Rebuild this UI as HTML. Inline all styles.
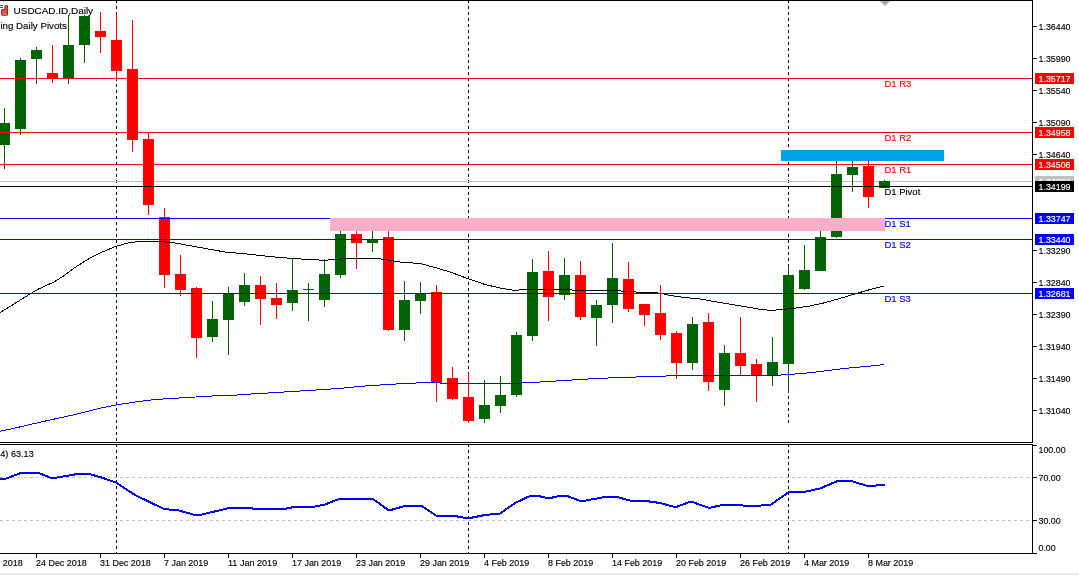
<!DOCTYPE html>
<html lang="en"><head><meta charset="utf-8"><title>USDCAD.ID,Daily</title>
<style>html,body{margin:0;padding:0;background:#fff;}body{width:1079px;height:575px;overflow:hidden;}svg{display:block;will-change:transform;}text{white-space:pre;}</style>
</head><body>
<svg width="1079" height="575" viewBox="0 0 1079 575" font-family="Liberation Sans, Arial, sans-serif">
<rect x="0" y="573" width="1079" height="1" fill="#f4f4f4"/><rect x="0" y="574" width="1079" height="1" fill="#e2e2e2"/>
<g shape-rendering="crispEdges">
<path d="M116.5 0V3M116.5 6V9M116.5 12V15M116.5 18V21M116.5 24V27M116.5 30V33M116.5 36V39M116.5 42V45M116.5 48V51M116.5 54V57M116.5 60V63M116.5 66V69M116.5 72V75M116.5 78V81M116.5 84V87M116.5 90V93M116.5 96V99M116.5 102V105M116.5 108V111M116.5 114V117M116.5 120V123M116.5 126V129M116.5 132V135M116.5 138V141M116.5 144V147M116.5 150V153M116.5 156V159M116.5 162V165M116.5 168V171M116.5 174V177M116.5 180V183M116.5 186V189M116.5 192V195M116.5 198V201M116.5 204V207M116.5 210V213M116.5 216V219M116.5 222V225M116.5 228V231M116.5 234V237M116.5 240V243M116.5 246V249M116.5 252V255M116.5 258V261M116.5 264V267M116.5 270V273M116.5 276V279M116.5 282V285M116.5 288V291M116.5 294V297M116.5 300V303M116.5 306V309M116.5 312V315M116.5 318V321M116.5 324V327M116.5 330V333M116.5 336V339M116.5 342V345M116.5 348V351M116.5 354V357M116.5 360V363M116.5 366V369M116.5 372V375M116.5 378V381M116.5 384V387M116.5 390V393M116.5 396V399M116.5 402V405M116.5 408V411M116.5 414V417M116.5 420V423M116.5 426V429M116.5 432V435M116.5 438V441M116.5 444V447M116.5 450V453M116.5 456V459M116.5 462V465M116.5 468V471M116.5 474V477M116.5 480V483M116.5 486V489M116.5 492V495M116.5 498V501M116.5 504V507M116.5 510V513M116.5 516V519M116.5 522V525M116.5 528V531M116.5 534V537M116.5 540V543M116.5 546V549M116.5 552V553" stroke="#000" stroke-width="1" fill="none"/>
<path d="M468.5 0V3M468.5 6V9M468.5 12V15M468.5 18V21M468.5 24V27M468.5 30V33M468.5 36V39M468.5 42V45M468.5 48V51M468.5 54V57M468.5 60V63M468.5 66V69M468.5 72V75M468.5 78V81M468.5 84V87M468.5 90V93M468.5 96V99M468.5 102V105M468.5 108V111M468.5 114V117M468.5 120V123M468.5 126V129M468.5 132V135M468.5 138V141M468.5 144V147M468.5 150V153M468.5 156V159M468.5 162V165M468.5 168V171M468.5 174V177M468.5 180V183M468.5 186V189M468.5 192V195M468.5 198V201M468.5 204V207M468.5 210V213M468.5 216V219M468.5 222V225M468.5 228V231M468.5 234V237M468.5 240V243M468.5 246V249M468.5 252V255M468.5 258V261M468.5 264V267M468.5 270V273M468.5 276V279M468.5 282V285M468.5 288V291M468.5 294V297M468.5 300V303M468.5 306V309M468.5 312V315M468.5 318V321M468.5 324V327M468.5 330V333M468.5 336V339M468.5 342V345M468.5 348V351M468.5 354V357M468.5 360V363M468.5 366V369M468.5 372V375M468.5 378V381M468.5 384V387M468.5 390V393M468.5 396V399M468.5 402V405M468.5 408V411M468.5 414V417M468.5 420V423" stroke="#000" stroke-width="1" fill="none"/>
<path d="M468.5 445V447M468.5 450V453M468.5 456V459M468.5 462V465M468.5 468V471M468.5 474V477M468.5 480V483M468.5 486V489M468.5 492V495M468.5 498V501M468.5 504V507M468.5 510V513M468.5 516V519M468.5 522V525M468.5 528V531M468.5 534V537M468.5 540V543M468.5 546V549M468.5 552V553" stroke="#000" stroke-width="1" fill="none"/>
<path d="M788.5 0V3M788.5 6V9M788.5 12V15M788.5 18V21M788.5 24V27M788.5 30V33M788.5 36V39M788.5 42V45M788.5 48V51M788.5 54V57M788.5 60V63M788.5 66V69M788.5 72V75M788.5 78V81M788.5 84V87M788.5 90V93M788.5 96V99M788.5 102V105M788.5 108V111M788.5 114V117M788.5 120V123M788.5 126V129M788.5 132V135M788.5 138V141M788.5 144V147M788.5 150V153M788.5 156V159M788.5 162V165M788.5 168V171M788.5 174V177M788.5 180V183M788.5 186V189M788.5 192V195M788.5 198V201M788.5 204V207M788.5 210V213M788.5 216V219M788.5 222V225M788.5 228V231M788.5 234V237M788.5 240V243M788.5 246V249M788.5 252V255M788.5 258V261M788.5 264V267M788.5 270V273M788.5 276V279M788.5 282V285M788.5 288V291M788.5 294V297M788.5 300V303M788.5 306V309M788.5 312V315M788.5 318V321M788.5 324V327M788.5 330V333M788.5 336V339M788.5 342V345M788.5 348V351M788.5 354V357M788.5 360V363M788.5 366V369M788.5 372V375M788.5 378V381M788.5 384V387M788.5 390V393M788.5 396V399M788.5 402V405M788.5 408V411M788.5 414V417M788.5 420V423" stroke="#000" stroke-width="1" fill="none"/>
<path d="M788.5 445V447M788.5 450V453M788.5 456V459M788.5 462V465M788.5 468V471M788.5 474V477M788.5 480V483M788.5 486V489M788.5 492V495M788.5 498V501M788.5 504V507M788.5 510V513M788.5 516V519M788.5 522V525M788.5 528V531M788.5 534V537M788.5 540V543M788.5 546V549M788.5 552V553" stroke="#000" stroke-width="1" fill="none"/>
<path d="M0 477.5H1032" stroke="#c0c0c0" stroke-width="1" stroke-dasharray="3,3" fill="none"/>
<path d="M0 520.5H1032" stroke="#c0c0c0" stroke-width="1" stroke-dasharray="3,3" fill="none"/>
<rect x="0" y="181" width="1032" height="1" fill="#c0c0c0"/>
<rect x="4" y="108" width="1" height="61" fill="#006400"/>
<rect x="-1" y="123" width="11" height="22" fill="#006400"/>
<rect x="20" y="58" width="1" height="77" fill="#006400"/>
<rect x="15" y="60" width="11" height="69" fill="#006400"/>
<rect x="36" y="47" width="1" height="37" fill="#006400"/>
<rect x="31" y="50" width="11" height="9" fill="#006400"/>
<rect x="52" y="45" width="1" height="38" fill="#ff0000"/>
<rect x="47" y="73" width="11" height="5" fill="#ff0000"/>
<rect x="68" y="15" width="1" height="69" fill="#006400"/>
<rect x="63" y="45" width="11" height="33" fill="#006400"/>
<rect x="84" y="15" width="1" height="48" fill="#006400"/>
<rect x="79" y="16" width="11" height="29" fill="#006400"/>
<rect x="100" y="12" width="1" height="41" fill="#ff0000"/>
<rect x="95" y="31" width="11" height="6" fill="#ff0000"/>
<rect x="116" y="14" width="1" height="66" fill="#ff0000"/>
<rect x="111" y="40" width="11" height="31" fill="#ff0000"/>
<rect x="132" y="20" width="1" height="132" fill="#ff0000"/>
<rect x="127" y="69" width="11" height="71" fill="#ff0000"/>
<rect x="148" y="133" width="1" height="82" fill="#ff0000"/>
<rect x="143" y="139" width="11" height="66" fill="#ff0000"/>
<rect x="164" y="208" width="1" height="80" fill="#ff0000"/>
<rect x="159" y="217" width="11" height="58" fill="#ff0000"/>
<rect x="180" y="255" width="1" height="41" fill="#ff0000"/>
<rect x="175" y="274" width="11" height="16" fill="#ff0000"/>
<rect x="196" y="287" width="1" height="71" fill="#ff0000"/>
<rect x="191" y="288" width="11" height="50" fill="#ff0000"/>
<rect x="212" y="301" width="1" height="41" fill="#006400"/>
<rect x="207" y="319" width="11" height="18" fill="#006400"/>
<rect x="228" y="287" width="1" height="68" fill="#006400"/>
<rect x="223" y="293" width="11" height="27" fill="#006400"/>
<rect x="244" y="273" width="1" height="33" fill="#006400"/>
<rect x="239" y="285" width="11" height="17" fill="#006400"/>
<rect x="260" y="276" width="1" height="49" fill="#ff0000"/>
<rect x="255" y="285" width="11" height="14" fill="#ff0000"/>
<rect x="276" y="283" width="1" height="36" fill="#ff0000"/>
<rect x="271" y="298" width="11" height="7" fill="#ff0000"/>
<rect x="292" y="259" width="1" height="52" fill="#006400"/>
<rect x="287" y="290" width="11" height="13" fill="#006400"/>
<rect x="308" y="283" width="1" height="38" fill="#006400"/>
<rect x="303" y="289" width="11" height="1" fill="#006400"/>
<rect x="324" y="259" width="1" height="48" fill="#006400"/>
<rect x="319" y="274" width="11" height="26" fill="#006400"/>
<rect x="340" y="231" width="1" height="47" fill="#006400"/>
<rect x="335" y="234" width="11" height="41" fill="#006400"/>
<rect x="356" y="231" width="1" height="38" fill="#ff0000"/>
<rect x="351" y="234" width="11" height="9" fill="#ff0000"/>
<rect x="372" y="231" width="1" height="21" fill="#006400"/>
<rect x="367" y="240" width="11" height="3" fill="#006400"/>
<rect x="388" y="231" width="1" height="100" fill="#ff0000"/>
<rect x="383" y="237" width="11" height="93" fill="#ff0000"/>
<rect x="404" y="281" width="1" height="60" fill="#006400"/>
<rect x="399" y="300" width="11" height="30" fill="#006400"/>
<rect x="420" y="282" width="1" height="32" fill="#006400"/>
<rect x="415" y="293" width="11" height="8" fill="#006400"/>
<rect x="436" y="285" width="1" height="117" fill="#ff0000"/>
<rect x="431" y="292" width="11" height="91" fill="#ff0000"/>
<rect x="452" y="367" width="1" height="33" fill="#ff0000"/>
<rect x="447" y="378" width="11" height="21" fill="#ff0000"/>
<rect x="468" y="373" width="1" height="50" fill="#ff0000"/>
<rect x="463" y="397" width="11" height="24" fill="#ff0000"/>
<rect x="484" y="380" width="1" height="43" fill="#006400"/>
<rect x="479" y="405" width="11" height="14" fill="#006400"/>
<rect x="500" y="376" width="1" height="37" fill="#006400"/>
<rect x="495" y="395" width="11" height="11" fill="#006400"/>
<rect x="516" y="332" width="1" height="65" fill="#006400"/>
<rect x="511" y="335" width="11" height="60" fill="#006400"/>
<rect x="532" y="259" width="1" height="82" fill="#006400"/>
<rect x="527" y="272" width="11" height="64" fill="#006400"/>
<rect x="548" y="251" width="1" height="70" fill="#ff0000"/>
<rect x="543" y="271" width="11" height="26" fill="#ff0000"/>
<rect x="564" y="258" width="1" height="42" fill="#006400"/>
<rect x="559" y="275" width="11" height="20" fill="#006400"/>
<rect x="580" y="261" width="1" height="59" fill="#ff0000"/>
<rect x="575" y="275" width="11" height="42" fill="#ff0000"/>
<rect x="596" y="300" width="1" height="46" fill="#006400"/>
<rect x="591" y="305" width="11" height="13" fill="#006400"/>
<rect x="612" y="243" width="1" height="80" fill="#006400"/>
<rect x="607" y="278" width="11" height="27" fill="#006400"/>
<rect x="628" y="262" width="1" height="50" fill="#ff0000"/>
<rect x="623" y="279" width="11" height="30" fill="#ff0000"/>
<rect x="644" y="304" width="1" height="22" fill="#ff0000"/>
<rect x="639" y="304" width="11" height="11" fill="#ff0000"/>
<rect x="660" y="285" width="1" height="55" fill="#ff0000"/>
<rect x="655" y="313" width="11" height="22" fill="#ff0000"/>
<rect x="676" y="331" width="1" height="48" fill="#ff0000"/>
<rect x="671" y="333" width="11" height="30" fill="#ff0000"/>
<rect x="692" y="317" width="1" height="53" fill="#006400"/>
<rect x="687" y="324" width="11" height="39" fill="#006400"/>
<rect x="708" y="313" width="1" height="78" fill="#ff0000"/>
<rect x="703" y="322" width="11" height="60" fill="#ff0000"/>
<rect x="724" y="345" width="1" height="61" fill="#006400"/>
<rect x="719" y="353" width="11" height="37" fill="#006400"/>
<rect x="740" y="317" width="1" height="58" fill="#ff0000"/>
<rect x="735" y="353" width="11" height="13" fill="#ff0000"/>
<rect x="756" y="359" width="1" height="43" fill="#ff0000"/>
<rect x="751" y="364" width="11" height="11" fill="#ff0000"/>
<rect x="772" y="337" width="1" height="49" fill="#006400"/>
<rect x="767" y="362" width="11" height="13" fill="#006400"/>
<rect x="788" y="266" width="1" height="127" fill="#006400"/>
<rect x="783" y="275" width="11" height="89" fill="#006400"/>
<rect x="804" y="245" width="1" height="45" fill="#006400"/>
<rect x="799" y="270" width="11" height="19" fill="#006400"/>
<rect x="820" y="231" width="1" height="40" fill="#006400"/>
<rect x="815" y="237" width="11" height="34" fill="#006400"/>
<rect x="836" y="161" width="1" height="77" fill="#006400"/>
<rect x="831" y="174" width="11" height="63" fill="#006400"/>
<rect x="852" y="161" width="1" height="31" fill="#006400"/>
<rect x="847" y="167" width="11" height="8" fill="#006400"/>
<rect x="868" y="161" width="1" height="47" fill="#ff0000"/>
<rect x="863" y="166" width="11" height="31" fill="#ff0000"/>
<rect x="884" y="180" width="1" height="8" fill="#006400"/>
<rect x="879" y="181" width="11" height="7" fill="#006400"/>
</g>
<polyline points="0,312.5 12.5,305 25,297 37.5,289.5 54,282 65,275 75,267.5 87.5,259.5 100,253 116,246.3 130,242.5 145,241 157.5,241 175,243 200,247.5 225,252 250,254.3 260,255.5 275,257 292.5,258.5 310,259.5 325,260.3 335,259.3 355,258.3 375,258.3 385,259.5 400,262 420,263.5 435,267.5 450,272 468.5,278.8 485,284.5 500,288 515,290.5 525,289.3 570,289.3 574,290.5 620,290.5 622.5,291.5 635,291.5 637.5,292.5 652.5,292.5 662.5,293.5 670,295.5 685,297.5 700,299 720,302.5 735,305 750,307.5 760,309.3 772.5,310.5 780,309.5 792,308.5 808,306.4 824,302.9 840,298.4 856,293.6 872,289 884,286" fill="none" stroke="#000" stroke-width="1" stroke-linejoin="round" shape-rendering="crispEdges"/>
<polyline points="0,431.2 12.5,428.7 25,425.7 50,420 75,414.5 100,408.3 116,405 135,402 155,399.5 187.5,397.5 220,395.5 232,395.5 243,394.5 260,393.5 276,392.5 292,391.5 308,390.5 324,389.5 339,388.5 349,387.5 359,386.5 372,385.5 388,384.5 404,383.5 429,382.5 450,383.5 510,383.5 532,382.5 548,381.5 564,380.5 580,379.5 597,378.5 620,377.5 652,376.5 680,375.5 775,375.5 788,374.5 802,373.5 812,372.5 820,371.5 828,370.5 836,369.5 844,368.5 854,367.5 866,366.5 876,365.5 884,364.5" fill="none" stroke="#0000ff" stroke-width="1" stroke-linejoin="round" shape-rendering="crispEdges"/>
<g shape-rendering="crispEdges">
<rect x="0" y="78" width="1032" height="1" fill="#ff0000"/>
<rect x="0" y="132" width="1032" height="1" fill="#ff0000"/>
<rect x="0" y="164" width="1032" height="1" fill="#ff0000"/>
<rect x="0" y="186" width="1032" height="1" fill="#000"/>
<rect x="0" y="218" width="1032" height="1" fill="#0000ff"/>
<rect x="0" y="239" width="1032" height="1" fill="#0000ff"/>
<rect x="0" y="293" width="1032" height="1" fill="#0000ff"/>
<rect x="0" y="0" width="1033" height="1" fill="#000"/>
<rect x="0" y="442" width="1033" height="1" fill="#000"/>
<rect x="0" y="444" width="1033" height="1" fill="#000"/>
<rect x="0" y="553" width="1033" height="1" fill="#000"/>
<rect x="1032" y="0" width="1" height="443" fill="#000"/>
<rect x="1032" y="444" width="1" height="110" fill="#000"/>
<rect x="1033" y="26" width="4" height="1" fill="#000"/>
<rect x="1033" y="58" width="4" height="1" fill="#000"/>
<rect x="1033" y="90" width="4" height="1" fill="#000"/>
<rect x="1033" y="122" width="4" height="1" fill="#000"/>
<rect x="1033" y="154" width="4" height="1" fill="#000"/>
<rect x="1033" y="250" width="4" height="1" fill="#000"/>
<rect x="1033" y="282" width="4" height="1" fill="#000"/>
<rect x="1033" y="314" width="4" height="1" fill="#000"/>
<rect x="1033" y="346" width="4" height="1" fill="#000"/>
<rect x="1033" y="378" width="4" height="1" fill="#000"/>
<rect x="1033" y="410" width="4" height="1" fill="#000"/>
<rect x="1033" y="445" width="4" height="1" fill="#000"/>
<rect x="1033" y="477" width="4" height="1" fill="#000"/>
<rect x="1033" y="520" width="4" height="1" fill="#000"/>
<rect x="1033" y="553" width="4" height="1" fill="#000"/>
<rect x="36" y="554" width="1" height="4" fill="#000"/>
<rect x="100" y="554" width="1" height="4" fill="#000"/>
<rect x="164" y="554" width="1" height="4" fill="#000"/>
<rect x="228" y="554" width="1" height="4" fill="#000"/>
<rect x="292" y="554" width="1" height="4" fill="#000"/>
<rect x="356" y="554" width="1" height="4" fill="#000"/>
<rect x="420" y="554" width="1" height="4" fill="#000"/>
<rect x="484" y="554" width="1" height="4" fill="#000"/>
<rect x="548" y="554" width="1" height="4" fill="#000"/>
<rect x="612" y="554" width="1" height="4" fill="#000"/>
<rect x="676" y="554" width="1" height="4" fill="#000"/>
<rect x="740" y="554" width="1" height="4" fill="#000"/>
<rect x="804" y="554" width="1" height="4" fill="#000"/>
<rect x="868" y="554" width="1" height="4" fill="#000"/>
</g>
<text x="1038.5" y="30" font-size="9.8" fill="#000" stroke="#000" stroke-width="0.15" textLength="32.0" lengthAdjust="spacingAndGlyphs">1.36440</text>
<text x="1038.5" y="62" font-size="9.8" fill="#000" stroke="#000" stroke-width="0.15" textLength="32.0" lengthAdjust="spacingAndGlyphs">1.35990</text>
<text x="1038.5" y="94" font-size="9.8" fill="#000" stroke="#000" stroke-width="0.15" textLength="32.0" lengthAdjust="spacingAndGlyphs">1.35540</text>
<text x="1038.5" y="126" font-size="9.8" fill="#000" stroke="#000" stroke-width="0.15" textLength="32.0" lengthAdjust="spacingAndGlyphs">1.35090</text>
<text x="1038.5" y="158" font-size="9.8" fill="#000" stroke="#000" stroke-width="0.15" textLength="32.0" lengthAdjust="spacingAndGlyphs">1.34640</text>
<text x="1038.5" y="254" font-size="9.8" fill="#000" stroke="#000" stroke-width="0.15" textLength="32.0" lengthAdjust="spacingAndGlyphs">1.33290</text>
<text x="1038.5" y="286" font-size="9.8" fill="#000" stroke="#000" stroke-width="0.15" textLength="32.0" lengthAdjust="spacingAndGlyphs">1.32840</text>
<text x="1038.5" y="318" font-size="9.8" fill="#000" stroke="#000" stroke-width="0.15" textLength="32.0" lengthAdjust="spacingAndGlyphs">1.32390</text>
<text x="1038.5" y="350" font-size="9.8" fill="#000" stroke="#000" stroke-width="0.15" textLength="32.0" lengthAdjust="spacingAndGlyphs">1.31940</text>
<text x="1038.5" y="382" font-size="9.8" fill="#000" stroke="#000" stroke-width="0.15" textLength="32.0" lengthAdjust="spacingAndGlyphs">1.31490</text>
<text x="1038.5" y="414" font-size="9.8" fill="#000" stroke="#000" stroke-width="0.15" textLength="32.0" lengthAdjust="spacingAndGlyphs">1.31040</text>
<rect x="1035" y="73" width="39" height="11" fill="#ff0000" shape-rendering="crispEdges"/>
<text x="1038.5" y="82" font-size="9.8" fill="#fff" stroke="#fff" stroke-width="0.15" textLength="32.0" lengthAdjust="spacingAndGlyphs">1.35717</text>
<rect x="1035" y="127" width="39" height="11" fill="#ff0000" shape-rendering="crispEdges"/>
<text x="1038.5" y="136" font-size="9.8" fill="#fff" stroke="#fff" stroke-width="0.15" textLength="32.0" lengthAdjust="spacingAndGlyphs">1.34958</text>
<rect x="1035" y="159" width="39" height="11" fill="#ff0000" shape-rendering="crispEdges"/>
<text x="1038.5" y="168" font-size="9.8" fill="#fff" stroke="#fff" stroke-width="0.15" textLength="32.0" lengthAdjust="spacingAndGlyphs">1.34506</text>
<rect x="1035" y="176" width="39" height="11" fill="#c0c0c0" shape-rendering="crispEdges"/>
<text x="1038.5" y="185" font-size="9.8" fill="#fff" stroke="#fff" stroke-width="0.15" textLength="32.0" lengthAdjust="spacingAndGlyphs">1.34262</text>
<rect x="1035" y="181" width="39" height="11" fill="#000" shape-rendering="crispEdges"/>
<text x="1038.5" y="190" font-size="9.8" fill="#fff" stroke="#fff" stroke-width="0.15" textLength="32.0" lengthAdjust="spacingAndGlyphs">1.34199</text>
<rect x="1035" y="213" width="39" height="11" fill="#0000ff" shape-rendering="crispEdges"/>
<text x="1038.5" y="222" font-size="9.8" fill="#fff" stroke="#fff" stroke-width="0.15" textLength="32.0" lengthAdjust="spacingAndGlyphs">1.33747</text>
<rect x="1035" y="234" width="39" height="11" fill="#0000ff" shape-rendering="crispEdges"/>
<text x="1038.5" y="243" font-size="9.8" fill="#fff" stroke="#fff" stroke-width="0.15" textLength="32.0" lengthAdjust="spacingAndGlyphs">1.33440</text>
<rect x="1035" y="288" width="39" height="11" fill="#0000ff" shape-rendering="crispEdges"/>
<text x="1038.5" y="297" font-size="9.8" fill="#fff" stroke="#fff" stroke-width="0.15" textLength="32.0" lengthAdjust="spacingAndGlyphs">1.32681</text>
<text x="1038.5" y="453" font-size="9.8" fill="#000" stroke="#000" stroke-width="0.15" textLength="27.1" lengthAdjust="spacingAndGlyphs">100.00</text>
<text x="1038.5" y="481" font-size="9.8" fill="#000" stroke="#000" stroke-width="0.15" textLength="22.2" lengthAdjust="spacingAndGlyphs">70.00</text>
<text x="1038.5" y="524" font-size="9.8" fill="#000" stroke="#000" stroke-width="0.15" textLength="22.2" lengthAdjust="spacingAndGlyphs">30.00</text>
<text x="1038.5" y="551" font-size="9.8" fill="#000" stroke="#000" stroke-width="0.15" textLength="17.2" lengthAdjust="spacingAndGlyphs">0.00</text>
<text x="-28" y="566" font-size="9.8" fill="#000" stroke="#000" stroke-width="0.15" textLength="50.7" lengthAdjust="spacingAndGlyphs">18 Dec 2018</text>
<text x="36" y="566" font-size="9.8" fill="#000" stroke="#000" stroke-width="0.15" textLength="50.7" lengthAdjust="spacingAndGlyphs">24 Dec 2018</text>
<text x="100" y="566" font-size="9.8" fill="#000" stroke="#000" stroke-width="0.15" textLength="50.7" lengthAdjust="spacingAndGlyphs">31 Dec 2018</text>
<text x="164" y="566" font-size="9.8" fill="#000" stroke="#000" stroke-width="0.15" textLength="44.2" lengthAdjust="spacingAndGlyphs">7 Jan 2019</text>
<text x="228" y="566" font-size="9.8" fill="#000" stroke="#000" stroke-width="0.15" textLength="49.2" lengthAdjust="spacingAndGlyphs">11 Jan 2019</text>
<text x="292" y="566" font-size="9.8" fill="#000" stroke="#000" stroke-width="0.15" textLength="49.2" lengthAdjust="spacingAndGlyphs">17 Jan 2019</text>
<text x="356" y="566" font-size="9.8" fill="#000" stroke="#000" stroke-width="0.15" textLength="49.2" lengthAdjust="spacingAndGlyphs">23 Jan 2019</text>
<text x="420" y="566" font-size="9.8" fill="#000" stroke="#000" stroke-width="0.15" textLength="49.2" lengthAdjust="spacingAndGlyphs">29 Jan 2019</text>
<text x="484" y="566" font-size="9.8" fill="#000" stroke="#000" stroke-width="0.15" textLength="45.2" lengthAdjust="spacingAndGlyphs">4 Feb 2019</text>
<text x="548" y="566" font-size="9.8" fill="#000" stroke="#000" stroke-width="0.15" textLength="45.2" lengthAdjust="spacingAndGlyphs">8 Feb 2019</text>
<text x="612" y="566" font-size="9.8" fill="#000" stroke="#000" stroke-width="0.15" textLength="50.2" lengthAdjust="spacingAndGlyphs">14 Feb 2019</text>
<text x="676" y="566" font-size="9.8" fill="#000" stroke="#000" stroke-width="0.15" textLength="50.2" lengthAdjust="spacingAndGlyphs">20 Feb 2019</text>
<text x="740" y="566" font-size="9.8" fill="#000" stroke="#000" stroke-width="0.15" textLength="50.2" lengthAdjust="spacingAndGlyphs">26 Feb 2019</text>
<text x="804" y="566" font-size="9.8" fill="#000" stroke="#000" stroke-width="0.15" textLength="45.2" lengthAdjust="spacingAndGlyphs">4 Mar 2019</text>
<text x="868" y="566" font-size="9.8" fill="#000" stroke="#000" stroke-width="0.15" textLength="45.2" lengthAdjust="spacingAndGlyphs">8 Mar 2019</text>
<text x="884.4" y="86.9" font-size="9.5" fill="#ff0000" stroke="#ff0000" stroke-width="0.15">D1 R3</text>
<text x="884.4" y="140.9" font-size="9.5" fill="#ff0000" stroke="#ff0000" stroke-width="0.15">D1 R2</text>
<text x="884.4" y="172.9" font-size="9.5" fill="#ff0000" stroke="#ff0000" stroke-width="0.15">D1 R1</text>
<text x="884.4" y="194.9" font-size="9.5" fill="#000" stroke="#000" stroke-width="0.15">D1 Pivot</text>
<text x="884.4" y="226.9" font-size="9.5" fill="#0000ff" stroke="#0000ff" stroke-width="0.15">D1 S1</text>
<text x="884.4" y="247.9" font-size="9.5" fill="#0000ff" stroke="#0000ff" stroke-width="0.15">D1 S2</text>
<text x="884.4" y="301.9" font-size="9.5" fill="#0000ff" stroke="#0000ff" stroke-width="0.15">D1 S3</text>
<g shape-rendering="crispEdges"><rect x="0" y="5" width="3" height="1" fill="#555"/><rect x="0" y="7" width="3" height="1" fill="#555"/></g>
<path d="M5.4 5.5h1.6q.5 0 .5 .5v8.8q0 .5-.5 .5h-4.9q-.5 0-.5-.5v-4.8q0-.5 .5-.5h2.8v-3.5q0-.5 .5-.5z" fill="#d25548" stroke="#b0201a" stroke-width="1"/><path d="M2.5 14h4" stroke="#eaa8a0" stroke-width="0.8"/>
<text x="13.6" y="14" font-size="9.75" fill="#000" stroke="#000" stroke-width="0.15" textLength="79.5" lengthAdjust="spacingAndGlyphs">USDCAD.ID,Daily</text>
<text x="0.4" y="29" font-size="9.75" fill="#000" stroke="#000" stroke-width="0.15" textLength="66.5" lengthAdjust="spacingAndGlyphs">ing Daily Pivots</text>
<text x="0.3" y="456.5" font-size="9.8" fill="#000" stroke="#000" stroke-width="0.15" textLength="33.4" lengthAdjust="spacingAndGlyphs">4) 63.13</text>
<polyline points="0,479 5,479 21,473 39,473 51,478 57.5,477.5 77.5,474 89,474 100,477 116,482.5 135,495 164,509 179,510.5 195,515 200,515 229,508 251,508 254,509 284,509 294,507 312.5,507 325,504.5 339,499 373,499 389,510.5 405,506 422,506 436,515.5 452.5,515.5 462.5,517.5 472.5,517.5 485,515 500,513.5 515,503 531,495.5 536,495.5 545,497.5 552.5,497.5 561,495.5 566,495.5 579,500.5 586,500.5 607.5,496.5 615,496.5 630,500.5 642.5,500.5 660,503 672.5,506.5 677.5,506.5 691,501.5 707.5,507.5 711,507.5 722.5,505 739,505 742.5,505.5 761,505.5 771,504.5 789,492 804,492 820,488.5 837.5,481 851,481 866,485.5 876,485.5 879,485 884.5,485" fill="none" stroke="#0000ff" stroke-width="2" stroke-linejoin="round" shape-rendering="crispEdges"/>
<path d="M880 1h10l-5 5z" fill="#a8a8a8"/>
<g shape-rendering="crispEdges">
<rect x="330" y="218" width="555" height="13" fill="#ffaec9"/>
<rect x="781" y="150" width="163" height="11" fill="#00a2e8"/>
</g>
</svg></body></html>
